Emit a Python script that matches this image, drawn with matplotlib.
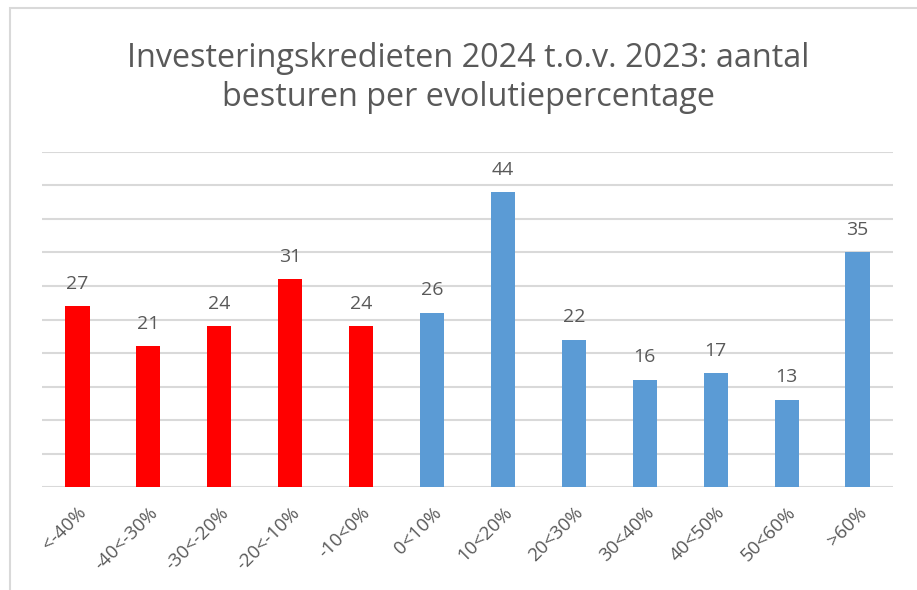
import matplotlib
matplotlib.use("Agg")
import matplotlib.pyplot as plt
from matplotlib.patches import Rectangle

# =========================
# Data
# =========================

categories = ["<-40%", "-40<-30%", "-30<-20%", "-20<-10%", "-10<0%", "0<10%",
              "10<20%", "20<30%", "30<40%", "40<50%", "50<60%", ">60%"]
counts = [27, 21, 24, 31, 24, 26, 44, 22, 16, 17, 13, 35]
bar_colors = ["#FF0000"] * 5 + ["#5B9BD5"] * 7

title = "Investeringskredieten 2024 t.o.v. 2023: aantal\nbesturen per evolutiepercentage"

text_gray = "#595959"
grid_gray = "#D9D9D9"

plt.rcParams["font.family"] = ["Open Sans", "DejaVu Sans"]

fig = plt.figure(figsize=(9.17, 5.90), dpi=100)
ax = fig.add_axes([42 / 917, 1 - 487 / 590, 851 / 917, 335 / 590])

# outer border (top and left visible)
fig.patches.append(Rectangle((10 / 917, -0.1), 1.2, (590 - 8) / 590 + 0.1,
                             transform=fig.transFigure, fill=False,
                             edgecolor=grid_gray, linewidth=1.5))

x = list(range(len(categories)))
bars = ax.bar(x, counts, width=0.34, color=bar_colors, zorder=3)

for xi, v in zip(x, counts):
    ax.text(xi, v + 2.0, str(v), ha="center", va="bottom",
            fontsize=14, color=text_gray)

ax.set_xlim(-0.5, len(categories) - 0.5)
ax.set_ylim(0, 50)
ax.set_yticks(range(0, 51, 5))
ax.set_yticklabels([])
ax.tick_params(axis="y", length=0)
ax.tick_params(axis="x", length=0, pad=12)
ax.grid(axis="y", color=grid_gray, linewidth=1.5, zorder=0)

ax.set_xticks(x)
ax.set_xticklabels(categories, rotation=45, ha="right", rotation_mode="anchor",
                   fontsize=13.5, color=text_gray)

for side in ["top", "right", "left", "bottom"]:
    ax.spines[side].set_visible(False)

fig.text(468 / 917, 1 - 78 / 590, title, ha="center", va="center",
         fontsize=23.3, color=text_gray, linespacing=1.25)

fig.savefig("out.png", dpi=100)
